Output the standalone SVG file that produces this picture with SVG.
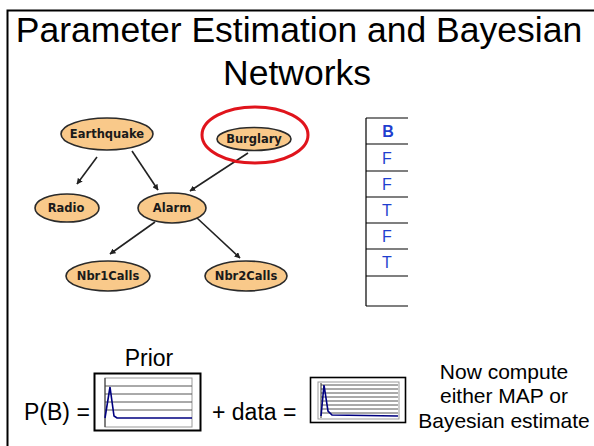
<svg xmlns="http://www.w3.org/2000/svg" width="594" height="446" viewBox="0 0 594 446">
<style>
.t{font-family:"Liberation Sans",Arial,sans-serif;fill:#000}
.node ellipse{fill:#F9C98A;stroke:#2a2a2a;stroke-width:1.6}
.node text{font-family:"Comic Sans MS","DejaVu Sans",sans-serif;font-weight:bold;font-size:11.5px;fill:#1a1a1a;text-anchor:middle}
.edge{stroke:#222;stroke-width:1.6;fill:none;marker-end:url(#ah)}
.tbl line{stroke:#000;stroke-width:1.2}
.tv{font-family:"Liberation Sans",Arial,sans-serif;font-size:16px;fill:#1f3fcf;text-anchor:middle}
.grid line{stroke:#555;stroke-width:1}
.curve{fill:none;stroke:#000080;stroke-width:1.6}
</style>
<defs>
<marker id="ah" viewBox="0 0 10 10" refX="9" refY="5" markerWidth="6" markerHeight="6" orient="auto" markerUnits="userSpaceOnUse">
<path d="M0,0 L10,5 L0,10 z" fill="#222"/>
</marker>
</defs>
<rect width="594" height="446" fill="#fff"/>
<path d="M7.5 446 V10.5 H594" fill="none" stroke="#000" stroke-width="2"/>
<text class="t" x="299" y="42" font-size="35.5" text-anchor="middle">Parameter Estimation and Bayesian</text>
<text class="t" x="297" y="85" font-size="35.5" text-anchor="middle">Networks</text>

<g id="edges">
<line class="edge" x1="97" y1="157" x2="77" y2="184"/>
<line class="edge" x1="132" y1="151" x2="158" y2="190"/>
<line class="edge" x1="248" y1="153" x2="190" y2="191"/>
<line class="edge" x1="155" y1="222" x2="110" y2="254"/>
<line class="edge" x1="197" y1="218" x2="240" y2="258"/>
</g>

<g id="node-earthquake" class="node"><ellipse cx="107" cy="134" rx="46" ry="16"/><text x="107" y="138">Earthquake</text></g>
<g id="node-burglary" class="node"><ellipse cx="254" cy="139" rx="37" ry="11.5"/><text x="254" y="143">Burglary</text></g>
<g id="node-radio" class="node"><ellipse cx="67" cy="208" rx="32" ry="14"/><text x="66" y="212">Radio</text></g>
<g id="node-alarm" class="node"><ellipse cx="172" cy="208" rx="34" ry="15"/><text x="172" y="212">Alarm</text></g>
<g id="node-nbr1" class="node"><ellipse cx="108" cy="276" rx="42" ry="15"/><text x="108" y="280">Nbr1Calls</text></g>
<g id="node-nbr2" class="node"><ellipse cx="246" cy="276" rx="41" ry="15"/><text x="246" y="280">Nbr2Calls</text></g>
<ellipse id="highlight" cx="255" cy="135" rx="53" ry="28" fill="none" stroke="#e0141c" stroke-width="3"/>

<g id="table" class="tbl">
<line x1="366" y1="118" x2="366" y2="306"/>
<line x1="366" y1="118" x2="408" y2="118"/>
<line x1="366" y1="144" x2="408" y2="144"/>
<line x1="366" y1="171" x2="408" y2="171"/>
<line x1="366" y1="197" x2="408" y2="197"/>
<line x1="366" y1="223" x2="408" y2="223"/>
<line x1="366" y1="249" x2="408" y2="249"/>
<line x1="366" y1="276" x2="408" y2="276"/>
<line x1="366" y1="306" x2="408" y2="306"/>
<text class="tv" x="388" y="137" font-weight="bold">B</text>
<text class="tv" x="387" y="164">F</text>
<text class="tv" x="387" y="190">F</text>
<text class="tv" x="387" y="216">T</text>
<text class="tv" x="387" y="242">F</text>
<text class="tv" x="387" y="268">T</text>
</g>

<text class="t" x="149" y="366" font-size="23" text-anchor="middle">Prior</text>
<text class="t" x="24" y="420" font-size="23">P(B) =</text>

<g id="prior-chart">
<rect x="94.5" y="373.5" width="106" height="57" fill="#fff" stroke="#000" stroke-width="2"/>
<rect x="105" y="378" width="87" height="49" fill="#fff" stroke="#999" stroke-width="1"/>
<g class="grid">
<line x1="105" y1="386" x2="192" y2="386"/>
<line x1="105" y1="394" x2="192" y2="394"/>
<line x1="105" y1="402" x2="192" y2="402"/>
<line x1="105" y1="410" x2="192" y2="410"/>
</g>
<line x1="105" y1="378" x2="105" y2="427" stroke="#333" stroke-width="1"/>
<path class="curve" d="M105 418 L110 387 L114 416 L117 418 L192 418"/>
</g>

<text class="t" x="212" y="420" font-size="23">+ data =</text>

<g id="posterior-chart">
<rect x="310.5" y="377.5" width="95" height="45" fill="#fff" stroke="#000" stroke-width="1.6"/>
<rect x="318" y="382" width="81" height="37" fill="#fff" stroke="#999" stroke-width="1"/>
<g class="grid">
<line x1="321" y1="385" x2="398" y2="385"/>
<line x1="321" y1="389" x2="398" y2="389"/>
<line x1="321" y1="393" x2="398" y2="393"/>
<line x1="321" y1="397" x2="398" y2="397"/>
<line x1="321" y1="401" x2="398" y2="401"/>
<line x1="321" y1="405" x2="398" y2="405"/>
<line x1="321" y1="409" x2="398" y2="409"/>
<line x1="321" y1="413" x2="398" y2="413"/>
</g>
<line x1="321" y1="383" x2="321" y2="418" stroke="#333" stroke-width="1"/>
<path class="curve" d="M321 416 L324 385 L328 411 L332 415 L398 416"/>
</g>

<text class="t" x="504" y="379" font-size="21" text-anchor="middle">Now compute</text>
<text class="t" x="504" y="403" font-size="21" text-anchor="middle">either MAP or</text>
<text class="t" x="504" y="428" font-size="21" text-anchor="middle">Bayesian estimate</text>
</svg>
